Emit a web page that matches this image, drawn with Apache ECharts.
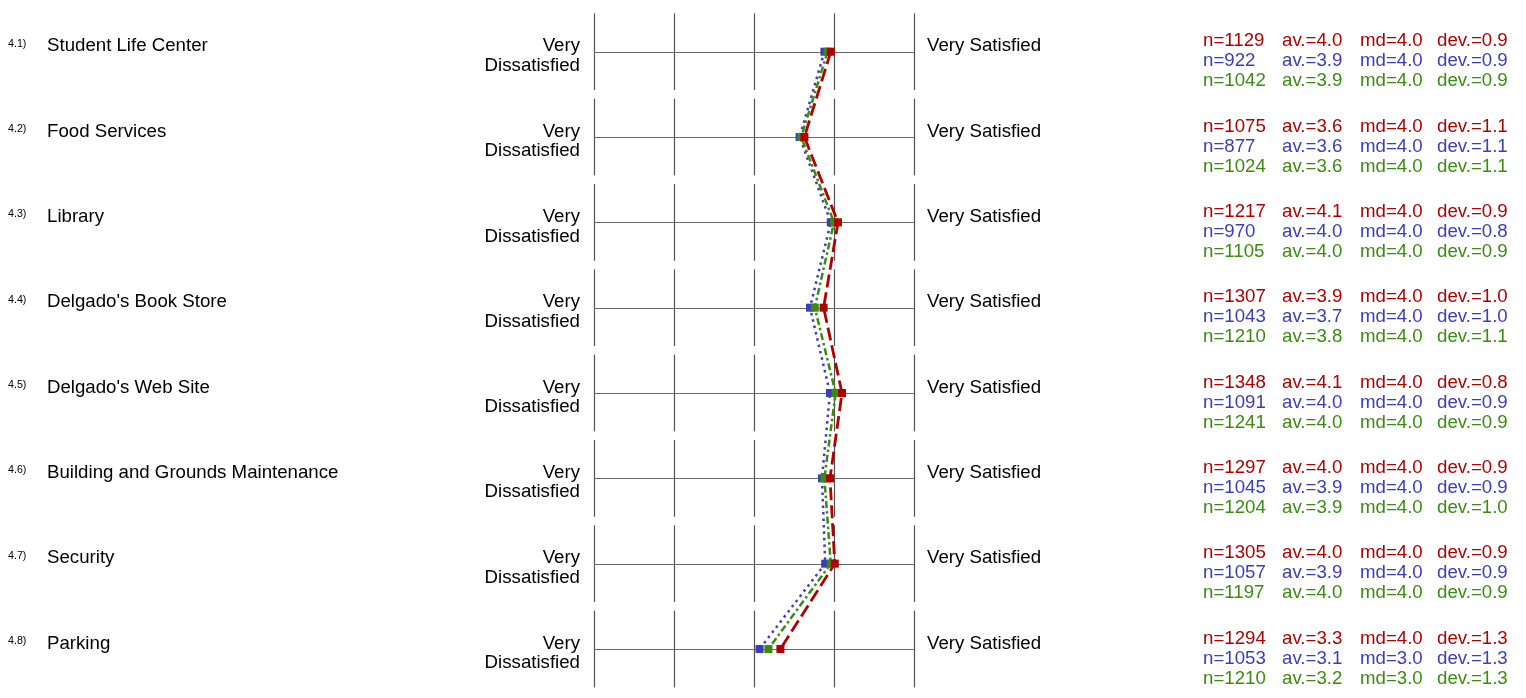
<!DOCTYPE html>
<html><head><meta charset="utf-8">
<script src="https://cdn.jsdelivr.net/npm/echarts@6/dist/echarts.min.js"></script>
<style>html,body{margin:0;padding:0;background:#fff}#c{width:1526px;height:698px}</style>
</head><body><div id="c"></div>
<script>
const codes = ['4.1)', '4.2)', '4.3)', '4.4)', '4.5)', '4.6)', '4.7)', '4.8)'];
const categories = ['Student Life Center', 'Food Services', 'Library', "Delgado's Book Store",
  "Delgado's Web Site", 'Building and Grounds Maintenance', 'Security', 'Parking'];
const leftLabel = ['Very', 'Dissatisfied'];
const rightLabel = 'Very Satisfied';
const scaleTicks = [1, 2, 3, 4, 5];

// plotted means
const meanRed   = [3.96, 3.63, 4.05, 3.87, 4.10, 3.95, 4.01, 3.33];
const meanBlue  = [3.88, 3.57, 3.96, 3.70, 3.95, 3.85, 3.89, 3.07];
const meanGreen = [3.92, 3.59, 4.00, 3.76, 4.02, 3.88, 3.96, 3.18];

// statistics
const nRed   = [1129, 1075, 1217, 1307, 1348, 1297, 1305, 1294];
const avRed  = [4.0, 3.6, 4.1, 3.9, 4.1, 4.0, 4.0, 3.3];
const mdRed  = [4.0, 4.0, 4.0, 4.0, 4.0, 4.0, 4.0, 4.0];
const devRed = [0.9, 1.1, 0.9, 1.0, 0.8, 0.9, 0.9, 1.3];
const nBlue   = [922, 877, 970, 1043, 1091, 1045, 1057, 1053];
const avBlue  = [3.9, 3.6, 4.0, 3.7, 4.0, 3.9, 3.9, 3.1];
const mdBlue  = [4.0, 4.0, 4.0, 4.0, 4.0, 4.0, 4.0, 3.0];
const devBlue = [0.9, 1.1, 0.8, 1.0, 0.9, 0.9, 0.9, 1.3];
const nGreen   = [1042, 1024, 1105, 1210, 1241, 1204, 1197, 1210];
const avGreen  = [3.9, 3.6, 4.0, 3.8, 4.0, 3.9, 4.0, 3.2];
const mdGreen  = [4.0, 4.0, 4.0, 4.0, 4.0, 4.0, 4.0, 3.0];
const devGreen = [0.9, 1.1, 0.9, 1.1, 0.9, 1.0, 0.9, 1.3];

const RED = '#b00000', BLUE = '#3c3cbe', GREEN = '#3a8c10';
const FONT = '"Liberation Sans", Arial, Helvetica, sans-serif';
const FS = 18.67;

const groups = [
  {color: RED, n: nRed, av: avRed, md: mdRed, dev: devRed, dy: -10.5},
  {color: BLUE, n: nBlue, av: avBlue, md: mdBlue, dev: devBlue, dy: 9.5},
  {color: GREEN, n: nGreen, av: avGreen, md: mdGreen, dev: devGreen, dy: 29.5}
];
const statCols = [1203, 1282, 1360, 1437];

function txt(x, y, text, opts) {
  return {type: 'text', x: x, y: y, silent: true,
    style: Object.assign({text: text, fill: '#000', fontSize: FS, fontFamily: FONT,
      align: 'left', verticalAlign: 'middle'}, opts || {})};
}

function renderRow(params, api) {
  const i = params.dataIndex;
  const cy = api.coord([1, i])[1];
  const half = api.size([0, 0.45])[1];
  const ch = [];
  scaleTicks.forEach(function (t) {
    const x = Math.round(api.coord([t, i])[0]) + 0.5;
    ch.push({type: 'line', silent: true, shape: {x1: x, y1: cy - half, x2: x, y2: cy + half},
      style: {stroke: '#505050', lineWidth: 1.2}});
  });
  const xa = api.coord([scaleTicks[0], i])[0], xb = api.coord([scaleTicks[scaleTicks.length - 1], i])[0];
  const hy = Math.round(cy) + 0.5;
  ch.push({type: 'line', silent: true, shape: {x1: xa, y1: hy, x2: xb, y2: hy},
    style: {stroke: '#6a6a6a', lineWidth: 1.2}});
  ch.push(txt(8, cy - 8, codes[i], {fontSize: 10.7}));
  ch.push(txt(47, cy - 5.5, categories[i]));
  ch.push(txt(580, cy - 5.5, leftLabel[0], {align: 'right'}));
  ch.push(txt(580, cy + 14, leftLabel[1], {align: 'right'}));
  ch.push(txt(927, cy - 5.5, rightLabel));
  groups.forEach(function (g) {
    const y = cy + g.dy;
    ch.push(txt(statCols[0], y, 'n=' + g.n[i], {fill: g.color}));
    ch.push(txt(statCols[1], y, 'av.=' + g.av[i].toFixed(1), {fill: g.color}));
    ch.push(txt(statCols[2], y, 'md=' + g.md[i].toFixed(1), {fill: g.color}));
    ch.push(txt(statCols[3], y, 'dev.=' + g.dev[i].toFixed(1), {fill: g.color}));
  });
  return {type: 'group', children: ch};
}

function profile(name, vals, color, dash, width, z) {
  return {
    name: name, type: 'line', z: z,
    data: vals.map(function (v, i) { return [v, i]; }),
    symbol: 'rect', symbolSize: 8, showSymbol: true,
    itemStyle: {color: color},
    lineStyle: {color: color, width: width, type: dash},
    emphasis: {disabled: true}, silent: true, clip: false
  };
}

const chart = echarts.init(document.getElementById('c'), null, {renderer: 'canvas'});
chart.setOption({
  animation: false,
  backgroundColor: '#fff',
  grid: {left: 594, right: 612, top: 13.3, bottom: 10.6},
  xAxis: {type: 'value', min: 1, max: 5, show: false},
  yAxis: {type: 'value', min: -0.45, max: 7.45, inverse: true, show: false},
  series: [
    {type: 'custom', z: 1, clip: false, silent: true, renderItem: renderRow,
      data: categories.map(function (c, i) { return [1, i]; })},
    profile('blue', meanBlue, BLUE, [2.5, 4], 2.5, 3),
    profile('green', meanGreen, GREEN, [7, 3, 2.5, 3], 2.5, 4),
    profile('red', meanRed, RED, [13, 5], 2.8, 5)
  ]
});
</script></body></html>
